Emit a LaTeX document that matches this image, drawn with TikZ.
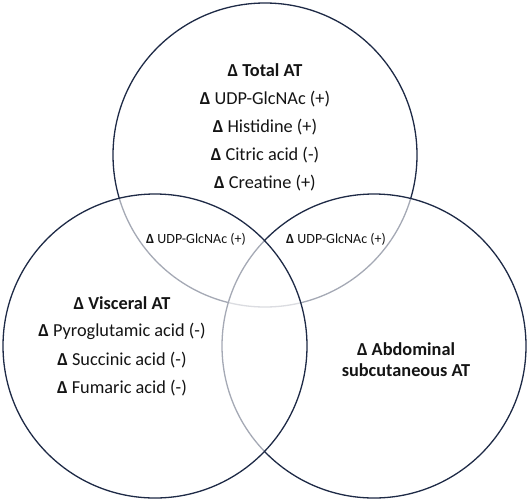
\documentclass[tikz,border=0pt]{standalone}
\usepackage{fontspec}
\setmainfont{Carlito}
\definecolor{navy}{RGB}{30,42,70}
\definecolor{txt}{RGB}{20,20,20}
\begin{document}
\begin{tikzpicture}[x=1pt,y=-1pt,
  ring/.style={circle,draw=navy,line width=1.3pt,fill=white,fill opacity=0.6,inner sep=0pt,outer sep=0pt,minimum size=304pt},
  big/.style={font=\fontsize{18.3}{21}\selectfont,text=txt,inner sep=0pt,anchor=center},
  small/.style={font=\fontsize{14}{16}\selectfont,text=txt,inner sep=0pt,anchor=center}]
\useasboundingbox (0,0) rectangle (529,498);
\node[ring] (top) at (265,155) {};
\node[ring] (right) at (374,346) {};
\node[ring] (left) at (155,346) {};
% top circle texts
\node[big] (t0) at (265,70) {\textbf{Δ Total AT}};
\node[big] (t1) at (265,99) {\textbf{Δ} UDP-GlcNAc (+)};
\node[big] (t2) at (265,127) {\textbf{Δ} Histidine (+)};
\node[big] (t3) at (265,155) {\textbf{Δ} Citric acid (-)};
\node[big] (t4) at (265,183) {\textbf{Δ} Creatine (+)};
% intersections
\node[small] (il) at (196,239) {\textbf{Δ} UDP-GlcNAc (+)};
\node[small] (ir) at (336,239) {\textbf{Δ} UDP-GlcNAc (+)};
% left circle texts
\node[big] (v0) at (122,303) {\textbf{Δ Visceral AT}};
\node[big] (v1) at (122,331) {\textbf{Δ} Pyroglutamic acid (-)};
\node[big] (v2) at (122,360) {\textbf{Δ} Succinic acid (-)};
\node[big] (v3) at (122,388) {\textbf{Δ} Fumaric acid (-)};
% right circle texts
\node[big] (a0) at (406,349) {\textbf{Δ Abdominal}};
\node[big] (a1) at (406,370) {\textbf{subcutaneous AT}};
\end{tikzpicture}
\end{document}
